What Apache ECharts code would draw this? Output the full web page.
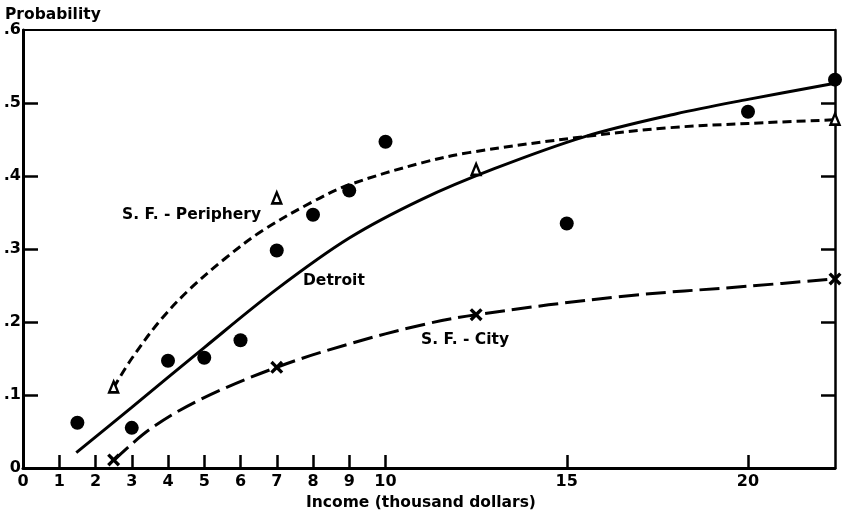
<!DOCTYPE html>
<html>
<head>
<meta charset="utf-8">
<script src="https://cdn.jsdelivr.net/npm/echarts@6/dist/echarts.min.js"></script>
<style>html,body{margin:0;padding:0;background:#fff}#c{width:843px;height:518px}</style>
</head>
<body>
<div id="c"></div>
<script>
// ---- data ----
const xLabelValues = [0,1,2,3,4,5,6,7,8,9,10,15,20];
const xTickValues = [1,2,3,4,5,6,7,8,9,10,15,20];
const yLabelValues = [0,0.1,0.2,0.3,0.4,0.5,0.6];
const yTickValues = [0.1,0.2,0.3,0.4,0.5];

const detroitPts = [[1.5,0.062],[3,0.055],[4,0.147],[5,0.151],[6,0.175],[7,0.298],[8,0.347],[9,0.380],[10,0.447],[15,0.335],[20,0.488],[22.4,0.532]];
const peripheryPts = [[2.5,0.111],[7,0.37],[12.5,0.409],[22.4,0.478]];
const cityPts = [[2.5,0.011],[7,0.138],[12.5,0.21],[22.4,0.259]];

const detroitCurve = [[1.47,0.021],[3,0.083],[5,0.165],[7,0.245],[9,0.315],[11,0.368],[13,0.41],[15.5,0.454],[18,0.485],[20,0.505],[22.4,0.527]];
const peripheryCurve = [[2.5,0.11],[3,0.15],[3.8,0.203],[4.6,0.245],[5.6,0.288],[6.6,0.325],[8,0.365],[9,0.388],[11,0.418],[12.3,0.432],[15.5,0.454],[17.8,0.466],[20,0.472],[22.4,0.477]];
const cityCurve = [[2.5,0.01],[3.5,0.053],[4.9,0.094],[7,0.138],[9,0.17],[11,0.196],[12.5,0.21],[16.5,0.235],[20,0.249],[22.4,0.259]];

const labels = {
  yTitle: 'Probability',
  xTitle: 'Income (thousand dollars)',
  periphery: 'S. F. - Periphery',
  detroit: 'Detroit',
  city: 'S. F. - City'
};

// ---- chart ----
const FONT = '"DejaVu Sans", sans-serif';
const chart = echarts.init(document.getElementById('c'), null, {renderer: 'canvas'});
const crossPath = 'path://M0,2.2 L2.2,0 L6,3.8 L9.8,0 L12,2.2 L8.2,6 L12,9.8 L9.8,12 L6,8.2 L2.2,12 L0,9.8 L3.8,6 Z';

function txt(text, x, y, align) {
  return {
    type: 'text', x: x, y: y, z: 100,
    style: {text: text, fill: '#000', font: 'bold 15.5px ' + FONT, align: align || 'left', verticalAlign: 'middle'}
  };
}

chart.setOption({
  animation: false,
  backgroundColor: '#fff',
  grid: {left: 23, right: 8, top: 30, bottom: 50, outerBoundsMode: 'none'},
  xAxis: [{
    type: 'value', min: 0, max: 22.4, position: 'bottom',
    axisLine: {show: true, onZero: false, lineStyle: {color: '#000', width: 3}},
    axisTick: {show: true, inside: true, length: 13, customValues: xTickValues, lineStyle: {color: '#000', width: 2.5}},
    axisLabel: {customValues: xLabelValues, color: '#000', fontSize: 16, fontWeight: 'bold', fontFamily: FONT, margin: 6},
    splitLine: {show: false}
  }, {
    type: 'value', min: 0, max: 22.4, position: 'top',
    axisLine: {show: true, onZero: false, lineStyle: {color: '#000', width: 2}},
    axisTick: {show: false}, axisLabel: {show: false}, splitLine: {show: false}
  }],
  yAxis: [{
    type: 'value', min: 0, max: 0.6, interval: 0.1, position: 'left',
    axisLine: {show: true, onZero: false, lineStyle: {color: '#000', width: 3}},
    axisTick: {show: true, inside: true, length: 15, customValues: yTickValues, lineStyle: {color: '#000', width: 2.5}},
    axisLabel: {
      customValues: yLabelValues, color: '#000', fontSize: 16, fontWeight: 'bold', fontFamily: FONT, margin: 2,
      formatter: function (v) { return v === 0 ? '0' : '.' + Math.round(v * 10); }
    },
    splitLine: {show: false}
  }, {
    type: 'value', min: 0, max: 0.6, interval: 0.1, position: 'right',
    axisLine: {show: true, onZero: false, lineStyle: {color: '#000', width: 2.5}},
    axisTick: {show: true, inside: true, length: 14, customValues: yTickValues, lineStyle: {color: '#000', width: 2.5}},
    axisLabel: {show: false}, splitLine: {show: false}
  }],
  series: [{
    name: 'Detroit curve', type: 'line', data: detroitCurve, smooth: 0.35, showSymbol: false,
    lineStyle: {color: '#000', width: 3}, clip: false, z: 2
  }, {
    name: 'Periphery curve', type: 'line', data: peripheryCurve, smooth: 0.35, showSymbol: false,
    lineStyle: {color: '#000', width: 3, type: [9, 5]}, clip: false, z: 2
  }, {
    name: 'City curve', type: 'line', data: cityCurve, smooth: 0.35, showSymbol: false,
    lineStyle: {color: '#000', width: 3, type: [20, 7]}, clip: false, z: 2
  }, {
    name: 'Detroit', type: 'scatter', data: detroitPts, symbol: 'circle', symbolSize: 14,
    itemStyle: {color: '#000', opacity: 1}, clip: false, z: 5
  }, {
    name: 'S.F.-Periphery', type: 'scatter', data: peripheryPts, symbol: 'triangle', symbolSize: [9, 11],
    itemStyle: {color: '#fff', borderColor: '#000', borderWidth: 2.5, opacity: 1}, clip: false, z: 5
  }, {
    name: 'S.F.-City', type: 'scatter', data: cityPts, symbol: crossPath, symbolSize: 13,
    itemStyle: {color: '#000', opacity: 1}, clip: false, z: 5
  }],
  graphic: [
    txt(labels.yTitle, 5, 15),
    txt(labels.periphery, 122, 215),
    txt(labels.detroit, 303, 281),
    txt(labels.city, 421, 340),
    txt(labels.xTitle, 421, 503, 'center')
  ]
});
</script>
</body>
</html>
